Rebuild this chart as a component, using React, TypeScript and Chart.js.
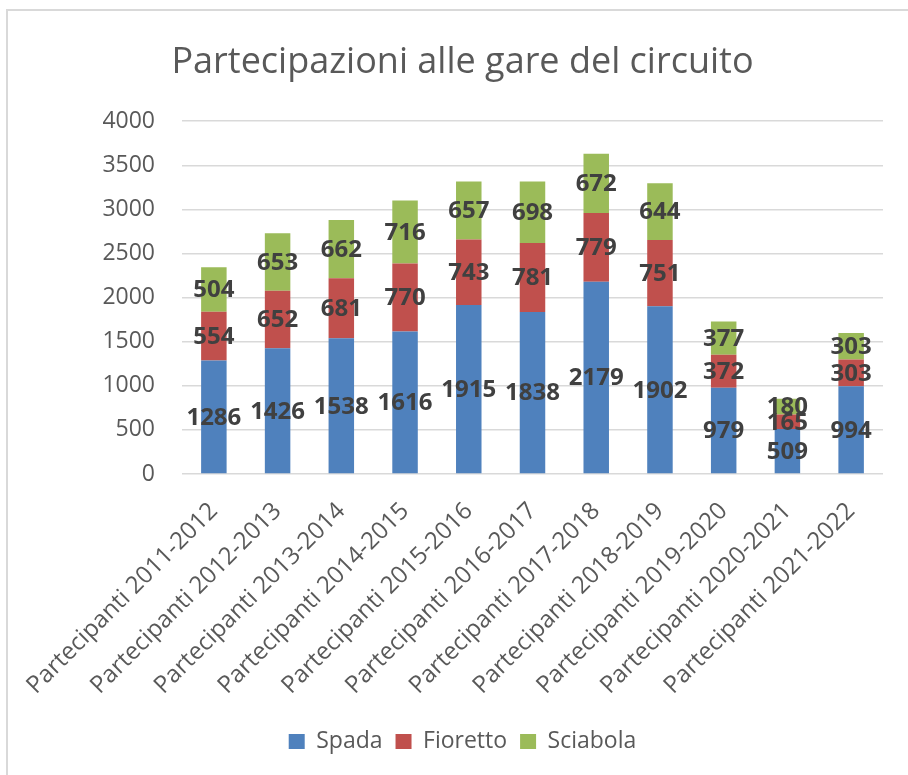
import React, { useEffect, useRef } from 'react';
import { Chart, registerables } from 'chart.js';

Chart.register(...registerables);

const categories = [
  'Partecipanti 2011-2012',
  'Partecipanti 2012-2013',
  'Partecipanti 2013-2014',
  'Partecipanti 2014-2015',
  'Partecipanti 2015-2016',
  'Partecipanti 2016-2017',
  'Partecipanti 2017-2018',
  'Partecipanti 2018-2019',
  'Partecipanti 2019-2020',
  'Partecipanti 2020-2021',
  'Partecipanti 2021-2022',
];
const spada = [1286, 1426, 1538, 1616, 1915, 1838, 2179, 1902, 979, 509, 994];
const fioretto = [554, 652, 681, 770, 743, 781, 779, 751, 372, 165, 303];
const sciabola = [504, 653, 662, 716, 657, 698, 672, 644, 377, 180, 303];
const seriesNames = ['Spada', 'Fioretto', 'Sciabola'];
const seriesColors = ['#4F81BD', '#C0504D', '#9BBB59'];
const yMin = 0;
const yMax = 4000;
const yStep = 500;
const titleText = 'Partecipazioni alle gare del circuito';

const FONT = '"Open Sans", "Noto Sans", sans-serif';

const dataLabelPlugin = {
  id: 'segmentLabels',
  afterDatasetsDraw(chart: any) {
    const ctx = chart.ctx;
    ctx.save();
    ctx.font = `bold 24px ${FONT}`;
    ctx.fillStyle = '#404040';
    ctx.textAlign = 'center';
    ctx.textBaseline = 'middle';
    chart.data.datasets.forEach((ds: any, di: number) => {
      const meta = chart.getDatasetMeta(di);
      meta.data.forEach((bar: any, i: number) => {
        const p = bar.getProps(['x', 'y', 'base'], true);
        ctx.fillText(String(ds.data[i]), p.x, (p.y + p.base) / 2 + 1);
      });
    });
    ctx.restore();
  },
};

export default function App() {
  const canvasRef = useRef<HTMLCanvasElement | null>(null);

  useEffect(() => {
    const canvas = canvasRef.current;
    if (!canvas) return;
    const values = [spada, fioretto, sciabola];
    const chart = new Chart(canvas, {
      type: 'bar',
      data: {
        labels: categories,
        datasets: seriesNames.map((name, i) => ({
          label: name,
          data: values[i],
          backgroundColor: seriesColors[i],
          borderWidth: 0,
          barPercentage: 0.4,
          categoryPercentage: 1,
        })),
      },
      options: {
        responsive: false,
        animation: false,
        devicePixelRatio: 1,
        layout: { padding: { left: 42, right: 25, top: 0, bottom: 12 } },
        plugins: {
          title: {
            display: true,
            text: titleText,
            color: '#595959',
            font: { family: FONT, size: 36, weight: '400' as any },
            padding: { top: 41, bottom: 37 },
          },
          legend: {
            position: 'bottom',
            labels: {
              color: '#595959',
              font: { family: FONT, size: 23 },
              boxWidth: 16,
              boxHeight: 15,
              padding: 13,
            },
          },
          tooltip: { enabled: false },
        },
        scales: {
          x: {
            stacked: true,
            grid: { display: false },
            border: { display: false },
            afterFit: (scale: any) => {
              scale.height = 243;
            },
            ticks: {
              color: '#595959',
              font: { family: FONT, size: 24 },
              maxRotation: 45,
              minRotation: 45,
              padding: 15,
              autoSkip: false,
            },
          },
          y: {
            stacked: true,
            min: yMin,
            max: yMax,
            grid: { color: '#d9d9d9', lineWidth: 1.5, drawTicks: false },
            border: { display: false },
            afterFit: (scale: any) => {
              scale.width = 140;
            },
            ticks: {
              stepSize: yStep,
              color: '#595959',
              font: { family: FONT, size: 23 },
              padding: 27,
              callback: (v: any) => String(v),
            },
          },
        },
      },
      plugins: [dataLabelPlugin],
    });
    return () => chart.destroy();
  }, []);

  return (
    <div style={{ position: 'fixed', left: 0, top: 0, width: 908, height: 775, background: '#fff', overflow: 'hidden' }}>
      <div
        style={{
          position: 'absolute',
          left: 6,
          top: 9,
          width: 920,
          height: 800,
          borderLeft: '2px solid #d9d9d9',
          borderTop: '2px solid #d9d9d9',
        }}
      />
      <canvas ref={canvasRef} width={908} height={775} style={{ position: 'absolute', left: 0, top: 0 }} />
    </div>
  );
}
